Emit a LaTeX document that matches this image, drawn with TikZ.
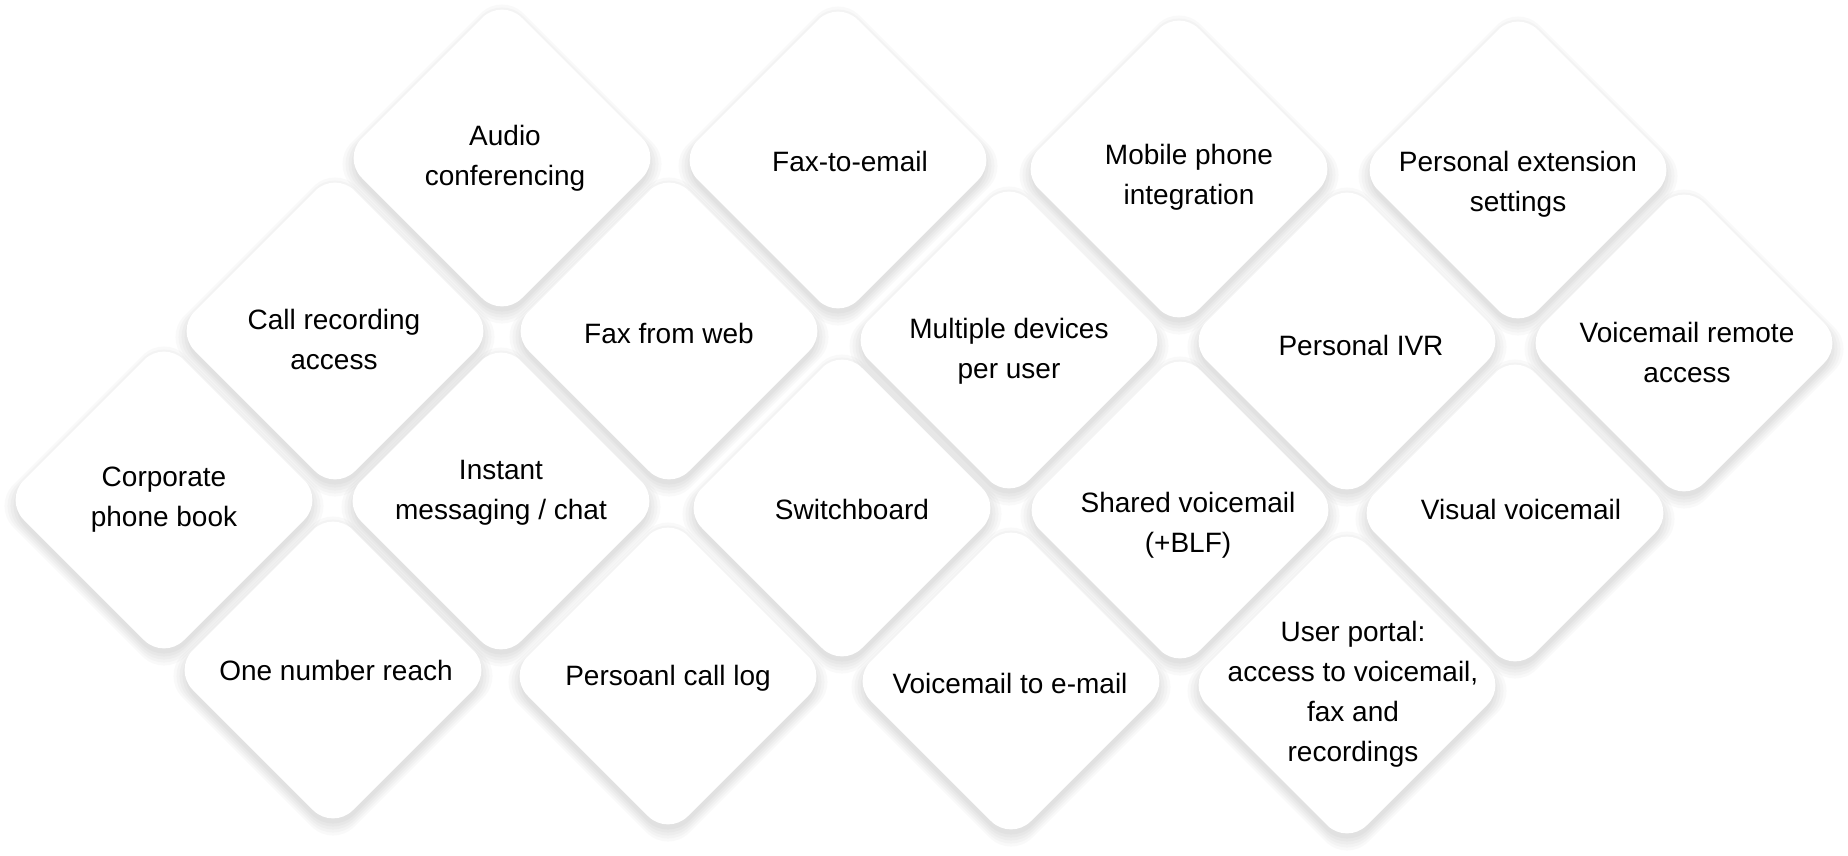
\documentclass[tikz,border=0pt]{standalone}
\usepackage{fontspec}
\setmainfont{Liberation Sans}
\usetikzlibrary{shapes.geometric,calc}
\tikzset{
  dia/.style={diamond, fill=white, draw=none, rounded corners=28pt,
    minimum width=320pt, minimum height=320pt, inner sep=0pt, outer sep=0pt},
  txt/.style={align=center, inner sep=0pt, text=black,
    font=\fontsize{28}{40}\selectfont},
  shade/.style={fill=black, fill opacity=0.022, draw=none, rounded corners=30pt}
}
\def\items{%
  audio/502/158/3/0/{Audio\\conferencing},
  faxmail/838/160/12/1/{Fax-to-email},
  mobile/1179/169/10/8/{Mobile phone\\integration},
  persext/1518/170/0/14/{Personal extension\\settings},
  callrec/335/331/-1/8/{Call recording\\access},
  faxweb/669/331/0/2/{Fax from web},
  multi/1009/340/0/11/{Multiple devices\\per user},
  ivr/1347/341/14/4/{Personal IVR},
  vmremote/1684/343/3/9/{Voicemail remote\\access},
  corp/164/500/0/0/{Corporate\\phone book},
  im/501/501/0/-8/{Instant\\messaging / chat},
  switch/842/508/10/1/{Switchboard},
  shared/1180/510/8/15/{Shared voicemail\\(+BLF)},
  visual/1515/513/6/-4/{Visual voicemail},
  onenum/333/670/3/0/{One number reach},
  calllog/668/676/0/2/{Persoanl call log},
  vmmail/1011/681/-1/2/{Voicemail to e-mail},
  portal/1347/685/6/9/{User portal:\\access to voicemail,\\fax and\\recordings}%
}
\begin{document}
\begin{tikzpicture}[x=1pt,y=-1pt]
  \useasboundingbox[fill=white] (0,0) rectangle (1848,855);
  % soft shadows
  \foreach \n/\x/\y/\dx/\dy/\t in \items {
    \foreach \s in {0,3,6,9,12} {
      \fill[shade] (\x,\y+6-160-\s) -- (\x+160+\s,\y+6) -- (\x,\y+6+160+\s) -- (\x-160-\s,\y+6) -- cycle;
    }
  }
  % tiles
  \foreach \n/\x/\y/\dx/\dy/\t in \items {
    \node[dia] (\n) at (\x,\y) {};
    \node[txt] (\n-t) at ($(\n)+(\dx,\dy)$) {\t};
  }
\end{tikzpicture}
\end{document}
